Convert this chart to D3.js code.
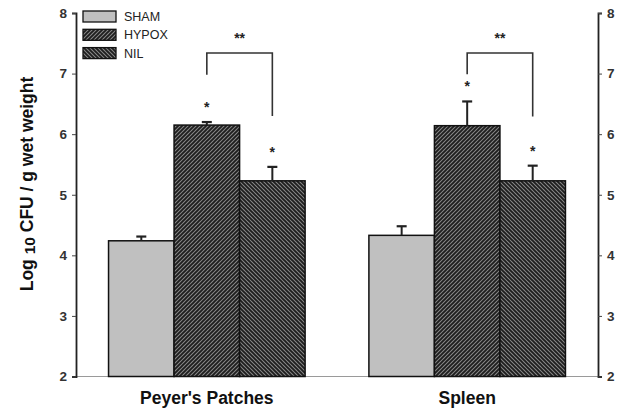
<!DOCTYPE html>
<html><head><meta charset="utf-8">
<script src="https://cdn.jsdelivr.net/npm/d3@7"></script>
<style>body{margin:0;background:#fff}svg{display:block}text{font-family:"Liberation Sans",Arial,sans-serif}</style>
</head><body><svg id="c" width="618" height="413"></svg>
<script>
const groups = ["Peyer's Patches", "Spleen"];
const seriesNames = ["SHAM", "HYPOX", "NIL"];
const means = [[4.24, 6.15, 5.23], [4.33, 6.14, 5.23]];
const errTop = [[4.31, 6.20, 5.46], [4.48, 6.54, 5.48]];
const starFlags = [[false, true, true], [false, true, true]];
// bracket: [left start value, top value, right end value]
const brackets = [[6.98, 7.34, 6.30], [6.99, 7.34, 6.29]];
const yTicks = [2, 3, 4, 5, 6, 7, 8];

const svg = d3.select("#c");
const defs = svg.append("defs");
function hatch(id, dir) {
  const p = defs.append("pattern").attr("id", id).attr("patternUnits", "userSpaceOnUse")
    .attr("width", 4).attr("height", 4);
  p.append("rect").attr("width", 4).attr("height", 4).attr("fill", "#8a8a8a");
  const d = dir > 0 ? "M-1,1 l2,-2 M0,4 l4,-4 M3,5 l2,-2" : "M-1,3 l2,2 M0,0 l4,4 M3,-1 l2,2";
  p.append("path").attr("d", d).attr("stroke", "#1e1e1e").attr("stroke-width", 1.9);
}
hatch("hyp", 1); hatch("nil", -1);
const fills = ["#c0c0c0", "url(#hyp)", "url(#nil)"];

const x0 = d3.scaleBand().domain(groups).range([76, 598]).paddingInner(0.245).paddingOuter(0.125);
const x1 = d3.scaleBand().domain(seriesNames).range([0, x0.bandwidth()]);
const y = d3.scaleLinear().domain([2, 8]).range([376.5, 13]);

// bottom baseline
svg.append("line").attr("x1", 76).attr("x2", 598).attr("y1", y(2)).attr("y2", y(2))
  .attr("stroke", "#9a9a9a").attr("stroke-width", 1.2);

// axes
const la = svg.append("g").attr("transform", "translate(76,0)")
  .call(d3.axisLeft(y).tickValues(yTicks).tickSize(4).tickPadding(5).tickFormat(d3.format("d")));
const ra = svg.append("g").attr("transform", "translate(598,0)")
  .call(d3.axisRight(y).tickValues(yTicks).tickSize(4).tickPadding(5).tickFormat(d3.format("d")));
[la, ra].forEach(a => {
  a.select(".domain").attr("stroke", "#222").attr("stroke-width", 1.8);
  a.selectAll(".tick line").attr("stroke", "#444").attr("stroke-width", 1);
  a.selectAll(".tick text").attr("font-size", 13.5).attr("font-weight", "bold").attr("fill", "#333")
    .attr("font-family", "Liberation Sans, Arial, sans-serif");
});

// bars
groups.forEach((g, gi) => {
  const gx = x0(g);
  seriesNames.forEach((s, si) => {
    const bx = gx + x1(s), bw = x1.bandwidth(), cx = bx + bw / 2;
    svg.append("rect").attr("x", bx).attr("y", y(means[gi][si])).attr("width", bw)
      .attr("height", y(2) - y(means[gi][si])).attr("fill", fills[si])
      .attr("stroke", "#111").attr("stroke-width", 1.5);
    svg.append("line").attr("x1", cx).attr("x2", cx).attr("y1", y(means[gi][si])).attr("y2", y(errTop[gi][si]))
      .attr("stroke", "#222").attr("stroke-width", 2);
    svg.append("line").attr("x1", cx - 5).attr("x2", cx + 5).attr("y1", y(errTop[gi][si])).attr("y2", y(errTop[gi][si]))
      .attr("stroke", "#222").attr("stroke-width", 2.2);
    if (starFlags[gi][si]) {
      svg.append("text").attr("x", cx).attr("y", y(errTop[gi][si]) - 10).attr("text-anchor", "middle")
        .attr("font-size", 14).attr("font-weight", "bold").attr("fill", "#222").text("*");
    }
  });
  const bl = gx + x1("HYPOX") + x1.bandwidth() / 2, br = gx + x1("NIL") + x1.bandwidth() / 2;
  const b = brackets[gi];
  svg.append("path").attr("d", `M${bl},${y(b[0])}V${y(b[1])}H${br}V${y(b[2])}`)
    .attr("fill", "none").attr("stroke", "#333").attr("stroke-width", 1.6);
  svg.append("text").attr("x", (bl + br) / 2).attr("y", y(b[1]) - 10).attr("text-anchor", "middle")
    .attr("font-size", 14).attr("font-weight", "bold").attr("fill", "#222").text("**");
  svg.append("text").attr("x", gx + x0.bandwidth() / 2).attr("y", 404).attr("text-anchor", "middle")
    .attr("font-size", 17.5).attr("font-weight", "bold").attr("fill", "#111").text(g);
});

// y title
const yt = svg.append("text").attr("transform", "translate(33,184) rotate(-90)").attr("text-anchor", "middle")
  .attr("font-size", 17.5).attr("font-weight", "bold").attr("fill", "#111");
yt.append("tspan").text("Log ");
yt.append("tspan").attr("font-size", 15.5).attr("dy", 1.5).text("10");
yt.append("tspan").attr("dy", -1.5).text(" CFU / g wet weight");

// legend
const leg = svg.append("g");
seriesNames.forEach((s, i) => {
  const ly = 11 + i * 18.3;
  leg.append("rect").attr("x", 83).attr("y", ly).attr("width", 33).attr("height", 11)
    .attr("fill", fills[i]).attr("stroke", "#111").attr("stroke-width", 1.3);
  leg.append("text").attr("x", 124).attr("y", ly + 10).attr("font-size", 12.5).attr("fill", "#222").text(s);
});
</script></body></html>
